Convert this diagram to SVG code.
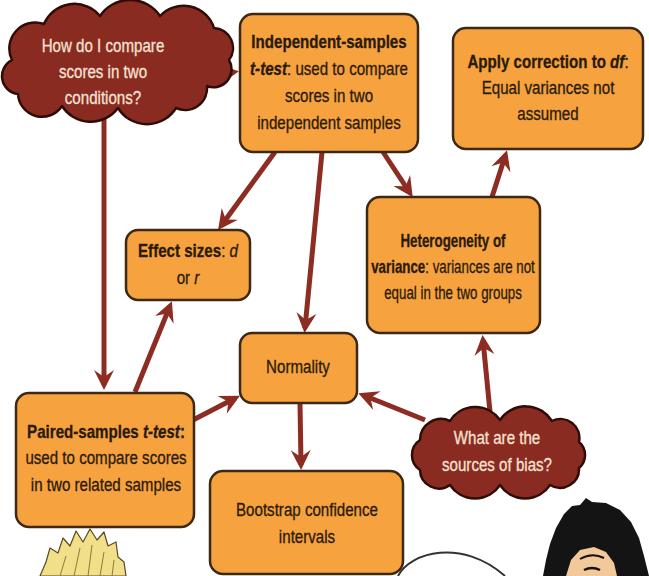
<svg xmlns="http://www.w3.org/2000/svg" width="649" height="576" viewBox="0 0 649 576">
  <defs>
    <style>
      .box { fill:#f6a23f; stroke:#3d2814; stroke-width:2.5; }
      .cloud { fill:#8a2b22; stroke:#2e0c08; stroke-width:2.5; stroke-linejoin:round; }
      .t { font-family:"Liberation Sans", Arial, sans-serif; font-size:18px; fill:#2a1a0c; stroke:#2a1a0c; stroke-width:0.3; text-anchor:middle; }
      .ct { fill:#f6e2d2; stroke:#f6e2d2; }
      .b { font-weight:bold; }
      .i { font-style:italic; }
      .conn path { stroke:#8c2c22; stroke-width:5; fill:none; marker-end:url(#ah); }
    </style>
    <marker id="ah" viewBox="-17 -11 23 22" refX="0" refY="0" markerWidth="23" markerHeight="22" orient="auto" markerUnits="userSpaceOnUse">
      <path d="M5,0 L-15,-10 L-8,0 L-15,10 Z" fill="#8c2c22"/>
    </marker>
  </defs>
  <rect width="649" height="576" fill="#ffffff"/>

  <!-- connectors -->
  <g id="connectors" class="conn">
    <path d="M210,76 L234,72"/>
    <path d="M104,118 L104,385"/>
    <path d="M135,392 L170,306"/>
    <path d="M275,152 L221,226"/>
    <path d="M322,152 L305,328"/>
    <path d="M383,152 L410,193"/>
    <path d="M492,197 L505.5,155"/>
    <path d="M490,412 L483,340"/>
    <path d="M425,420 L363,395"/>
    <path d="M193,420 L235.5,398"/>
    <path d="M300,403 L301,465"/>
  </g>

  <!-- question cloud: comparing two conditions -->
  <g id="q-compare">
    <path class="cloud" d="M12,60 A26,26 0 0 1 44,24 A33,33 0 0 1 100,16 A36,36 0 0 1 160,16 A32,32 0 0 1 214,28 A20,20 0 0 1 229,60 A18,18 0 0 1 207,86 A22,22 0 0 1 176,108 A34,34 0 0 1 118,108 A34,34 0 0 1 62,106 A24,24 0 0 1 18,94 A18,18 0 0 1 12,60 Z"/>
    <g transform="translate(103 0) scale(0.84 1)">
      <text class="t ct" x="0" y="52">How do I compare</text>
      <text class="t ct" x="0" y="78">scores in two</text>
      <text class="t ct" x="0" y="104">conditions?</text>
    </g>
  </g>

  <!-- independent-samples t-test -->
  <g id="independent">
    <rect class="box" x="240" y="14" width="178" height="138" rx="13"/>
    <g transform="translate(329 0) scale(0.84 1)">
      <text class="t b" x="0" y="48">Independent-samples</text>
      <text class="t" x="0" y="75"><tspan class="b i">t-test</tspan>: used to compare</text>
      <text class="t" x="0" y="102">scores in two</text>
      <text class="t" x="0" y="129">independent samples</text>
    </g>
  </g>

  <!-- correction to df -->
  <g id="correction">
    <rect class="box" x="453" y="28" width="190" height="121" rx="13"/>
    <g transform="translate(548 0) scale(0.84 1)">
      <text class="t" x="0" y="68"><tspan class="b">Apply correction to </tspan><tspan class="b i">df</tspan>:</text>
      <text class="t" x="0" y="94">Equal variances not</text>
      <text class="t" x="0" y="120">assumed</text>
    </g>
  </g>

  <!-- effect sizes -->
  <g id="effect">
    <rect class="box" x="126" y="230" width="124" height="70" rx="12"/>
    <g transform="translate(188 0) scale(0.84 1)">
      <text class="t" x="0" y="257"><tspan class="b">Effect sizes</tspan>: <tspan class="i">d</tspan></text>
      <text class="t" x="0" y="284">or <tspan class="i">r</tspan></text>
    </g>
  </g>

  <!-- heterogeneity of variance -->
  <g id="heterogeneity">
    <rect class="box" x="367" y="197" width="173" height="136" rx="13"/>
    <g transform="translate(453 0) scale(0.74 1)">
      <text class="t b" x="0" y="247">Heterogeneity of</text>
      <text class="t" x="0" y="273"><tspan class="b">variance</tspan>: variances are not</text>
      <text class="t" x="0" y="299">equal in the two groups</text>
    </g>
  </g>

  <!-- normality -->
  <g id="normality">
    <rect class="box" x="240" y="333" width="117" height="70" rx="12"/>
    <g transform="translate(298 0) scale(0.84 1)">
      <text class="t" x="0" y="373">Normality</text>
    </g>
  </g>

  <!-- paired-samples t-test -->
  <g id="paired">
    <rect class="box" x="16" y="393" width="178" height="134" rx="13"/>
    <g transform="translate(106 0) scale(0.84 1)">
      <text class="t b" x="0" y="438">Paired-samples <tspan class="i">t-test</tspan>:</text>
      <text class="t" x="0" y="464">used to compare scores</text>
      <text class="t" x="0" y="491">in two related samples</text>
    </g>
  </g>

  <!-- bootstrap confidence intervals -->
  <g id="bootstrap">
    <rect class="box" x="210" y="471" width="193" height="103" rx="13"/>
    <g transform="translate(307 0) scale(0.84 1)">
      <text class="t" x="0" y="516">Bootstrap confidence</text>
      <text class="t" x="0" y="543">intervals</text>
    </g>
  </g>

  <!-- question cloud: sources of bias -->
  <g id="q-bias">
    <path class="cloud" d="M420,440 A21,21 0 0 1 450,421 A30,30 0 0 1 500,420 A31,31 0 0 1 552,421 A19,19 0 0 1 579,442 A17,17 0 0 1 579,468 A19,19 0 0 1 550,485 A30,30 0 0 1 500,485 A30,30 0 0 1 450,485 A19,19 0 0 1 420,470 A18,18 0 0 1 420,440 Z"/>
    <g transform="translate(497 0) scale(0.84 1)">
      <text class="t ct" x="0" y="444">What are the</text>
      <text class="t ct" x="0" y="471">sources of bias?</text>
    </g>
  </g>

  <!-- cartoon figures along the bottom edge -->
  <g id="figures">
    <path d="M40,576 L46,562 L50,548 L58,553 L63,538 L70,546 L76,531 L83,542 L90,529 L97,540 L104,532 L108,546 L116,542 L118,557 L124,562 L126,576 Z" fill="#f2df8a" stroke="#5a4a22" stroke-width="1.2" stroke-linejoin="round"/>
    <path d="M60,576 L66,556 M74,576 L80,548 M88,576 L92,545 M100,576 L104,552 M112,576 L114,560" stroke="#8a7a3a" stroke-width="1" fill="none"/>
    <path d="M398,576 C410,552 462,538 505,576" fill="none" stroke="#333333" stroke-width="2"/>
    <path d="M543,576 L546,560 L550,544 L556,528 L564,514 L572,506 L580,505 L586,498 L592,502 L606,503 L620,510 L631,522 L639,538 L644,556 L649,576 Z" fill="#141414"/>
    <path d="M566,576 L571,560 L580,550 L594,547 L606,552 L614,563 L617,576 Z" fill="#f3c99a"/>
    <path d="M568,556 L575,542 L578,552 Z" fill="#141414"/>
    <path d="M580,559 Q592,552 604,558" fill="none" stroke="#141414" stroke-width="2"/>
    <path d="M584,570 Q592,566 600,570" fill="none" stroke="#141414" stroke-width="2.5"/>
  </g>
</svg>
